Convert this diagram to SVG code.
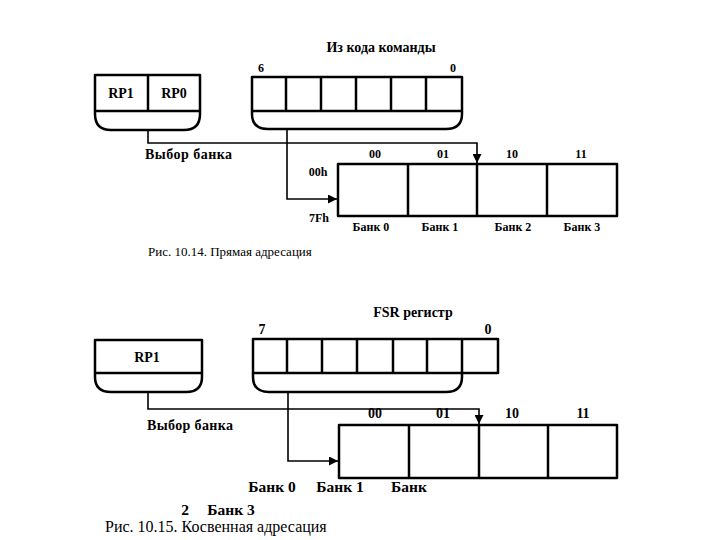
<svg xmlns="http://www.w3.org/2000/svg" width="720" height="540" viewBox="0 0 720 540">
<style>
.box{fill:none;stroke:#000;stroke-width:2.5;stroke-linejoin:round}
.div{stroke:#000;stroke-width:2.5}
.con{fill:none;stroke:#000;stroke-width:1.6}
.lb{font-family:"Liberation Serif","Times New Roman",serif;font-weight:bold;font-size:12px;fill:#000}
.lt{font-family:"Liberation Serif","Times New Roman",serif;font-weight:bold;font-size:14px;fill:#000}
.lb2{font-family:"Liberation Serif","Times New Roman",serif;font-weight:bold;font-size:15.5px;fill:#000}
.cap{font-family:"Liberation Serif","Times New Roman",serif;font-size:13px;fill:#000}
</style>
<defs>
<marker id="arr" viewBox="0 0 10 10" refX="10" refY="5" markerWidth="11" markerHeight="9" markerUnits="userSpaceOnUse" orient="auto">
<path d="M0,0 L10,5 L0,10 Z" fill="#000"/>
</marker>
</defs>
<rect width="720" height="540" fill="#fff"/>

<!-- Figure 10.14 -->
<g id="rp-top">
<path class="box" d="M95,75 H200 V114 Q200,130 184,130 H111 Q95,130 95,114 Z"/>
<line class="div" x1="95" y1="111" x2="200" y2="111"/>
<line class="div" x1="148" y1="75" x2="148" y2="111"/>
<text class="lt" x="121" y="98" text-anchor="middle">RP1</text>
<text class="lt" x="174" y="98" text-anchor="middle">RP0</text>
</g>
<g id="cmd-reg">
<text class="lt" x="381" y="52" text-anchor="middle">Из кода команды</text>
<text class="lb" x="261" y="72" text-anchor="middle">6</text>
<text class="lb" x="453" y="72" text-anchor="middle">0</text>
<path class="box" d="M252,77 H462 V114 Q462,129 446,129 H268 Q252,129 252,114 Z"/>
<line class="div" x1="252" y1="111" x2="462" y2="111"/>
<line class="div" x1="286" y1="77" x2="286" y2="111"/>
<line class="div" x1="321" y1="77" x2="321" y2="111"/>
<line class="div" x1="356" y1="77" x2="356" y2="111"/>
<line class="div" x1="391" y1="77" x2="391" y2="111"/>
<line class="div" x1="426" y1="77" x2="426" y2="111"/>
</g>
<g id="banks-top">
<rect class="box" x="338" y="164" width="279" height="52"/>
<line class="div" x1="408" y1="164" x2="408" y2="216"/>
<line class="div" x1="477" y1="164" x2="477" y2="216"/>
<line class="div" x1="547" y1="164" x2="547" y2="216"/>
<text class="lb" x="375" y="158" text-anchor="middle">00</text>
<text class="lb" x="443" y="158" text-anchor="middle">01</text>
<text class="lb" x="512" y="158" text-anchor="middle">10</text>
<text class="lb" x="581" y="158" text-anchor="middle">11</text>
<text class="lb" x="318" y="176" text-anchor="middle">00h</text>
<text class="lb" x="319" y="222" text-anchor="middle">7Fh</text>
<text class="lb" x="371" y="231" text-anchor="middle">Банк 0</text>
<text class="lb" x="440" y="231" text-anchor="middle">Банк 1</text>
<text class="lb" x="513" y="231" text-anchor="middle">Банк 2</text>
<text class="lb" x="582" y="231" text-anchor="middle">Банк 3</text>
</g>
<g id="connectors-top">
<path class="con" d="M148,130 V143 H477 V163" marker-end="url(#arr)"/>
<path class="con" d="M287,129 V199 H337" marker-end="url(#arr)"/>
</g>
<text class="lt" x="145" y="159" textLength="87">Выбор банка</text>
<text class="cap" x="148" y="256">Рис. 10.14. Прямая адресация</text>

<!-- Figure 10.15 -->
<g id="rp-bottom">
<path class="box" d="M95,340 H202 V377 Q202,392 186,392 H111 Q95,392 95,377 Z"/>
<line class="div" x1="95" y1="373" x2="202" y2="373"/>
<text class="lt" x="147" y="362" text-anchor="middle">RP1</text>
</g>
<g id="fsr-reg">
<text class="lt" x="413" y="317" text-anchor="middle">FSR регистр</text>
<text class="lt" x="262" y="334" text-anchor="middle">7</text>
<text class="lt" x="488" y="334" text-anchor="middle">0</text>
<rect class="box" x="253" y="339" width="245" height="34"/>
<path class="box" d="M253,373 V377 Q253,392 269,392 H446 Q462,392 462,377 V373"/>
<line class="div" x1="287" y1="339" x2="287" y2="373"/>
<line class="div" x1="322" y1="339" x2="322" y2="373"/>
<line class="div" x1="357" y1="339" x2="357" y2="373"/>
<line class="div" x1="393" y1="339" x2="393" y2="373"/>
<line class="div" x1="427" y1="339" x2="427" y2="373"/>
<line class="div" x1="462" y1="339" x2="462" y2="373"/>
</g>
<g id="banks-bottom">
<rect class="box" x="339" y="425" width="278" height="53"/>
<line class="div" x1="409" y1="425" x2="409" y2="478"/>
<line class="div" x1="479" y1="425" x2="479" y2="478"/>
<line class="div" x1="548" y1="425" x2="548" y2="478"/>
<text class="lt" x="375" y="418" text-anchor="middle">00</text>
<text class="lt" x="443" y="418" text-anchor="middle">01</text>
<text class="lt" x="512" y="418" text-anchor="middle">10</text>
<text class="lt" x="583" y="418" text-anchor="middle">11</text>
</g>
<g id="connectors-bottom">
<path class="con" d="M148,392 V409 H479 V424" marker-end="url(#arr)"/>
<path class="con" d="M288,392 V461 H338" marker-end="url(#arr)"/>
</g>
<text class="lt" x="147" y="430" textLength="86">Выбор банка</text>
<text class="lb2" x="272" y="492" text-anchor="middle">Банк 0</text>
<text class="lb2" x="340" y="492" text-anchor="middle">Банк 1</text>
<text class="lb2" x="409" y="492" text-anchor="middle">Банк</text>
<text class="lb2" x="185" y="515" text-anchor="middle">2</text>
<text class="lb2" x="231" y="515" text-anchor="middle">Банк 3</text>
<text class="cap" x="105" y="532" style="font-size:16px">Рис. 10.15. Косвенная адресация</text>
</svg>
